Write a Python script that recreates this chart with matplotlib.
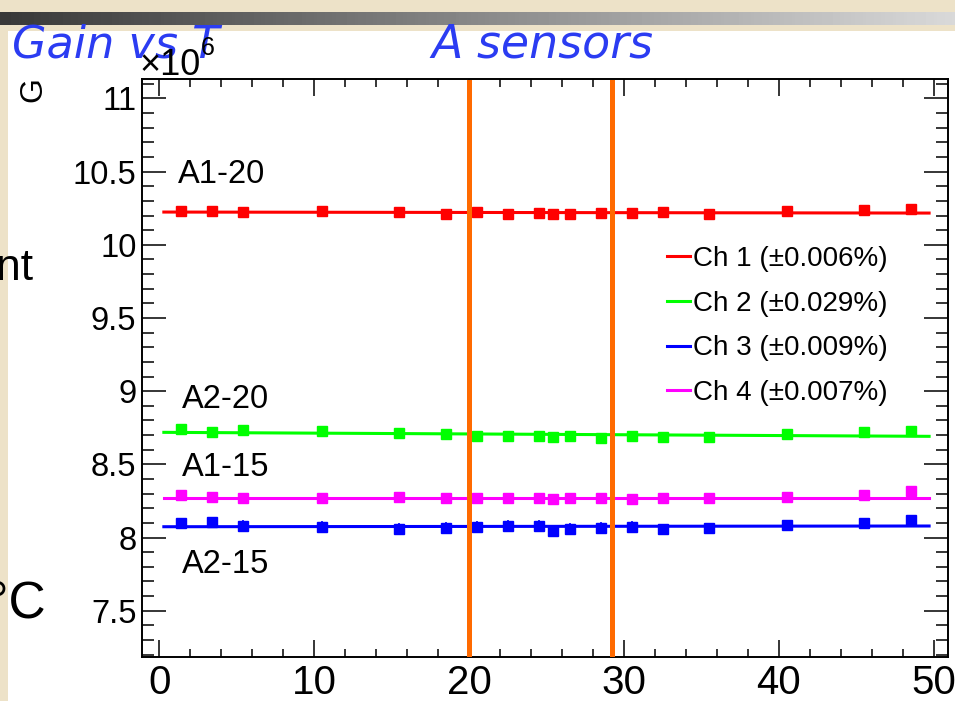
import numpy as np
import matplotlib.pyplot as plt
from matplotlib.patches import Rectangle
from matplotlib.ticker import MultipleLocator, FuncFormatter

plt.rcParams['font.family'] = ['Liberation Sans', 'DejaVu Sans']

# temperature of each measurement (deg C)
temp = [1.4, 3.4, 5.4, 10.5, 15.5, 18.5, 20.5, 22.5, 24.5, 25.4,
        26.5, 28.5, 30.5, 32.5, 35.5, 40.5, 45.5, 48.5]

# gain in units of 1e6
gain_ch1 = [10.232, 10.228, 10.224, 10.228, 10.221, 10.212, 10.224, 10.214, 10.219,
            10.210, 10.214, 10.217, 10.219, 10.224, 10.214, 10.228, 10.235, 10.246]
gain_ch2 = [8.742, 8.723, 8.735, 8.728, 8.712, 8.706, 8.694, 8.694, 8.696,
            8.689, 8.694, 8.680, 8.692, 8.685, 8.685, 8.708, 8.723, 8.730]
gain_ch3 = [8.097, 8.104, 8.081, 8.070, 8.058, 8.063, 8.074, 8.079, 8.081,
            8.047, 8.058, 8.063, 8.074, 8.058, 8.065, 8.083, 8.101, 8.118]
gain_ch4 = [8.291, 8.279, 8.268, 8.268, 8.275, 8.268, 8.272, 8.272, 8.270,
            8.261, 8.270, 8.270, 8.265, 8.270, 8.272, 8.279, 8.291, 8.318]
err_ch3 = [0.04, 0.02, 0.04, 0.04, 0.04, 0.04, 0.04, 0.04, 0.04,
           0.03, 0.04, 0.04, 0.04, 0.02, 0.02, 0.02, 0.03, 0.02]

# straight line fits: (value at T=0, slope per deg C)
fit_ch1 = (10.224, -0.00014)
fit_ch2 = (8.719, -0.00055)
fit_ch3 = (8.074, 0.0001)
fit_ch4 = (8.272, 0.0)
fit_range = [0.3, 49.7]

labels = ['Ch 1 (\u00b10.006%)', 'Ch 2 (\u00b10.029%)',
          'Ch 3 (\u00b10.009%)', 'Ch 4 (\u00b10.007%)']
colors = ['#ff0000', '#00ff00', '#0000ff', '#ff00ff']

# temperature window marked in orange
t_window = [20.0, 29.2]

sensor_names = ['A1-20', 'A2-20', 'A1-15', 'A2-15']
sensor_pos = [(1.2, 10.478), (1.5, 8.942), (1.5, 8.478), (1.5, 7.816)]

W, H = 955, 701
fig = plt.figure(figsize=(W / 100, H / 100), dpi=100, facecolor='#ede2c8')

# white canvas of the pasted plot
fig.patches.append(Rectangle((8 / W, 0), 1, (H - 31) / H, transform=fig.transFigure,
                             facecolor='white', edgecolor='none', zorder=-10))

# grey gradient bar on the slide
bar = fig.add_axes([0, 1 - 25 / H, 1, 13 / H])
bar.imshow(np.linspace(0.22, 0.85, 256).reshape(1, -1), cmap='gray', vmin=0, vmax=1,
           aspect='auto')
bar.axis('off')

ax = fig.add_axes([142 / W, 1 - 657 / H, (948 - 142) / W, (657 - 79) / H])
ax.set_facecolor('white')

series = [gain_ch1, gain_ch2, gain_ch3, gain_ch4]
fits = [fit_ch1, fit_ch2, fit_ch3, fit_ch4]
xf = np.array(fit_range)
for g, f, c, lab in zip(series, fits, colors, labels):
    ax.plot(xf, f[0] + f[1] * xf, color=c, lw=2.2, label=lab, zorder=3)
    if g is gain_ch3:
        ax.errorbar(temp, g, yerr=err_ch3, fmt='s', color=c, ms=7.5, elinewidth=1.2,
                    capsize=0, zorder=4)
    else:
        ax.plot(temp, g, 's', color=c, ms=7.5, zorder=4)

for t in t_window:
    ax.axvline(t, ymin=0, ymax=0.995, color='#ff6a00', lw=3.6, zorder=5)

for name, (x, y) in zip(sensor_names, sensor_pos):
    ax.text(x, y, name, fontsize=23.5, va='center', ha='left')

ax.set_xlim(-1.11, 50.92)
ax.set_ylim(7.184, 11.133)
ax.xaxis.set_major_locator(MultipleLocator(10))
ax.xaxis.set_minor_locator(MultipleLocator(2))
ax.yaxis.set_major_locator(MultipleLocator(0.5))
ax.yaxis.set_minor_locator(MultipleLocator(0.1))
ax.yaxis.set_major_formatter(FuncFormatter(lambda v, p: '%g' % v))
ax.tick_params(which='both', direction='in', top=True, right=True, width=1.1)
ax.tick_params(axis='x', which='major', length=12.5, labelsize=29, pad=5)
ax.tick_params(axis='x', which='minor', length=6)
ax.tick_params(axis='y', which='major', length=17, labelsize=23.5, pad=4)
ax.tick_params(axis='y', which='minor', length=8.5)
for s in ax.spines.values():
    s.set_linewidth(1.4)

ax.legend(loc='upper left', bbox_to_anchor=(0.651, 0.711), frameon=False, fontsize=20,
          handlelength=0.83, handletextpad=0.12, labelspacing=0.67, borderpad=0,
          borderaxespad=0)

# text of the slide / canvas
blue = '#2b3cf2'
fig.text(12 / W, 1 - 45 / H, 'Gain vs T', color=blue, fontsize=32, va='center',
         family='DejaVu Sans', style='italic')
fig.text(542 / W, 1 - 45 / H, 'A sensors', color=blue, fontsize=33, va='center',
         ha='center', family='DejaVu Sans', style='italic')
fig.text(140 / W, 1 - 75 / H, '\u00d710', fontsize=26, va='baseline')
fig.text(201 / W, 1 - 55 / H, '6', fontsize=18, va='baseline')
fig.text(33 / W, 1 - 90 / H, 'G', fontsize=23, rotation=90, va='center', ha='center')
fig.text(-4 / W, 1 - 268 / H, 'nt', fontsize=32, va='center')
fig.text(-12 / W, 1 - 605 / H, '\u00b0C', fontsize=37, va='center')

fig.savefig('out.png', dpi=100, facecolor=fig.get_facecolor())
